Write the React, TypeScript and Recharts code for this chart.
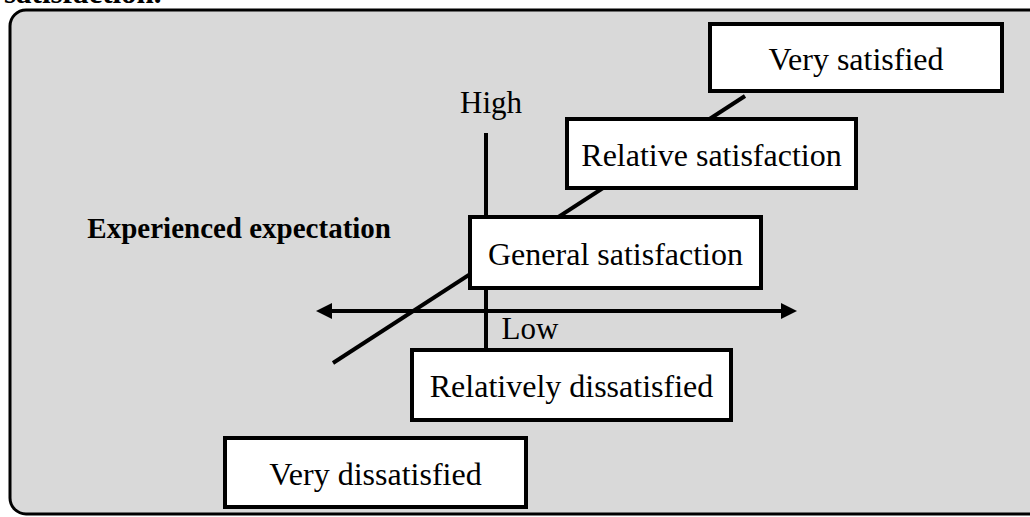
import React from 'react';
import { ComposedChart, XAxis, YAxis, ReferenceArea, ReferenceDot } from 'recharts';

const W = 1030;
const H = 517;
const SERIF = '"Liberation Serif", "Times New Roman", serif';

// Diagram coordinates (x to the right, y downward), in a 1030 x 517 domain
const boxLabels = ['Very satisfied', 'Relative satisfaction', 'General satisfaction', 'Relatively dissatisfied', 'Very dissatisfied'];
const boxX1 = [710, 567, 470, 412, 225];
const boxX2 = [1002, 856, 761, 731, 526];
const boxY1 = [24, 119, 217, 350, 438];
const boxY2 = [91, 188, 288, 420, 507];

const frame = { x1: 10, x2: 1030, y1: 10, y2: 514 };

// rising diagonal (bottom-left to top-right), vertical axis, horizontal double arrow
const diagonalLine = { x1: 333, x2: 745, y1: 96, y2: 363 };
const verticalLine = { x1: 486, x2: 486, y1: 133, y2: 348 };
const horizontalArrow = { x1: 316, x2: 797, y1: 303, y2: 319 };

const textLabels = [
  { text: 'High', x: 491, y: 113, anchor: 'middle', bold: false, size: 31 },
  { text: 'Low', x: 530, y: 339, anchor: 'middle', bold: false, size: 31 },
  { text: 'Experienced expectation', x: 391, y: 238, anchor: 'end', bold: true, size: 29 },
  { text: 'satisfaction.', x: 4, y: 3, anchor: 'start', bold: true, size: 31 },
];

const boxes = boxLabels.map((label, i) => ({ label, x1: boxX1[i], x2: boxX2[i], y1: boxY1[i], y2: boxY2[i] }));

export default function App() {
  return (
    <div style={{ position: 'absolute', left: 0, top: 0, width: W, height: H, background: '#fff', overflow: 'hidden' }}>
      <ComposedChart width={W} height={H} data={[]} margin={{ top: 0, right: 0, bottom: 0, left: 0 }}>
        <XAxis type="number" dataKey="x" domain={[0, W]} hide allowDataOverflow />
        <YAxis type="number" dataKey="y" domain={[0, H]} reversed hide allowDataOverflow />

        <ReferenceArea
          x1={frame.x1}
          x2={frame.x2}
          y1={frame.y1}
          y2={frame.y2}
          ifOverflow="visible"
          shape={(p: any) => {
            const r = 16;
            const x = p.x;
            const y = p.y;
            const b = p.y + p.height;
            const far = p.x + p.width + 40;
            const d = `M ${far} ${y} H ${x + r} A ${r} ${r} 0 0 0 ${x} ${y + r} V ${b - r} A ${r} ${r} 0 0 0 ${x + r} ${b} H ${far}`;
            return <path d={d} fill="#d9d9d9" stroke="#000" strokeWidth={3} />;
          }}
        />

        <ReferenceArea
          {...diagonalLine}
          ifOverflow="visible"
          shape={(p: any) => (
            <line x1={p.x} y1={p.y + p.height} x2={p.x + p.width} y2={p.y} stroke="#000" strokeWidth={4} />
          )}
        />
        <ReferenceArea
          {...verticalLine}
          ifOverflow="visible"
          shape={(p: any) => (
            <line x1={p.x} y1={p.y} x2={p.x} y2={p.y + p.height} stroke="#000" strokeWidth={4} />
          )}
        />
        <ReferenceArea
          {...horizontalArrow}
          ifOverflow="visible"
          shape={(p: any) => {
            const cy = p.y + p.height / 2;
            const hh = p.height / 2;
            const L = p.x;
            const R = p.x + p.width;
            return (
              <g>
                <line x1={L + 12} y1={cy} x2={R - 12} y2={cy} stroke="#000" strokeWidth={4} />
                <polygon points={`${L},${cy} ${L + 16},${cy - hh} ${L + 16},${cy + hh}`} fill="#000" />
                <polygon points={`${R},${cy} ${R - 16},${cy - hh} ${R - 16},${cy + hh}`} fill="#000" />
              </g>
            );
          }}
        />

        {boxes.map((b) => (
          <ReferenceArea
            key={b.label}
            x1={b.x1}
            x2={b.x2}
            y1={b.y1}
            y2={b.y2}
            ifOverflow="visible"
            shape={(p: any) => (
              <g>
                <rect x={p.x} y={p.y} width={p.width} height={p.height} fill="#fff" stroke="#000" strokeWidth={4} />
                <text
                  x={p.x + p.width / 2}
                  y={p.y + p.height / 2 + 12}
                  textAnchor="middle"
                  fontFamily={SERIF}
                  fontSize={32}
                  fill="#000"
                >
                  {b.label}
                </text>
              </g>
            )}
          />
        ))}

        {textLabels.map((t) => (
          <ReferenceDot
            key={t.text}
            x={t.x}
            y={t.y}
            ifOverflow="visible"
            shape={(p: any) => (
              <text
                x={p.cx}
                y={p.cy}
                textAnchor={t.anchor as any}
                fontFamily={SERIF}
                fontSize={t.size}
                fontWeight={t.bold ? 'bold' : 'normal'}
                fill="#000"
              >
                {t.text}
              </text>
            )}
          />
        ))}
      </ComposedChart>
    </div>
  );
}
